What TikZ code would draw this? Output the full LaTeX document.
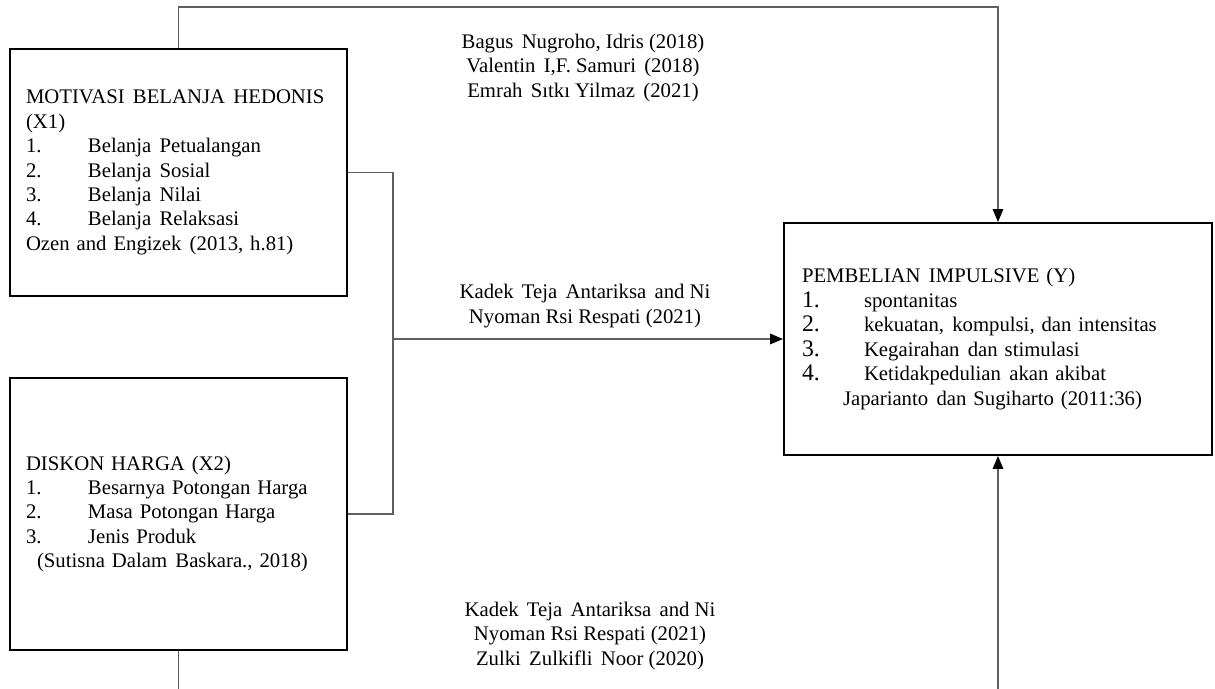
\documentclass[tikz,border=0pt]{standalone}
\usepackage{fontspec}
\setmainfont{Liberation Serif}
\usetikzlibrary{positioning, arrows.meta, calc}
\definecolor{linkgray}{RGB}{95, 95, 95}
\newcommand{\itm}[2]{\makebox[1.24cm][l]{#1}#2}
\newcommand{\bignum}[1]{{\fontsize{13.5}{13.9}\selectfont #1}}
\newcommand{\gap}{\hspace{0.4em}}
\tikzset{
  varbox/.style={
    draw=black,
    line width=1.1pt,
    align=left,
    inner xsep=0.32cm,
    inner ysep=0pt,
    font=\fontsize{11.8}{13.9}\selectfont
  },
  link/.style={
    draw=linkgray,
    line width=0.8pt
  },
  arrowlink/.style={
    link,
    -{Triangle[length=2.6mm, width=2.1mm, color=black]}
  },
  refnote/.style={
    align=center,
    inner sep=0pt,
    font=\fontsize{11.8}{13.9}\selectfont
  }
}

\begin{document}
\begin{tikzpicture}[x=0.02cm, y=-0.02cm]
  \useasboundingbox (0,0) rectangle (1215,689);

  % variables
  \node[varbox, minimum width=6.74cm, minimum height=4.94cm, text width=6.1cm] (x1) at (178.5,172.5)
    {\mbox{MOTIVASI\gap BELANJA\gap HEDONIS}\\(X1)\\
     \itm{1.}{Belanja\gap Petualangan}\\
     \itm{2.}{Belanja\gap Sosial}\\
     \itm{3.}{Belanja\gap Nilai}\\
     \itm{4.}{Belanja\gap Relaksasi}\\
     Ozen and Engizek\gap (2013, h.81)};
  \node[varbox, minimum width=6.74cm, minimum height=5.44cm, text width=6.1cm] (x2) at (178.5,514)
    {DISKON HARGA (X2)\\
     \itm{1.}{Besarnya Potongan Harga}\\
     \itm{2.}{Masa Potongan Harga}\\
     \itm{3.}{Jenis Produk}\\
     \hspace*{0.22cm}(Sutisna Dalam\gap Baskara., 2018)};
  \node[varbox, inner xsep=0.36cm, minimum width=8.56cm, minimum height=4.64cm, text width=7.84cm] (y) at (998,339)
    {PEMBELIAN\gap IMPULSIVE (Y)\\
     \itm{\bignum{1.}}{spontanitas}\\
     \itm{\bignum{2.}}{kekuatan,\gap kompulsi, dan intensitas}\\
     \itm{\bignum{3.}}{Kegairahan\gap dan stimulasi}\\
     \itm{\bignum{4.}}{Ketidakpedulian\gap akan akibat}\\
     \hspace*{0.82cm}Japarianto\gap dan Sugiharto (2011:36)};

  % references
  \node[refnote] (r1) at (583,68)
    {Bagus\gap Nugroho, Idris (2018)\\Valentin\gap I,F. Samuri\gap (2018)\\Emrah\gap Sıtkı Yilmaz\gap (2021)};
  \node[refnote] (r2) at (585,306)
    {Kadek\gap Teja\gap Antariksa\gap and Ni\\Nyoman Rsi Respati (2021)};
  \node[refnote] (r3) at (590,636)
    {Kadek\gap Teja\gap Antariksa\gap and Ni\\Nyoman Rsi Respati (2021)\\Zulki\gap Zulkifli\gap Noor (2020)};

  % connectors
  \coordinate (top) at (590,7);
  \coordinate (join) at (393,339);
  \coordinate (lowx) at (178.5,689);
  \coordinate (lowy) at (998,689);

  \draw[arrowlink] (x1.north) |- (top) -| (y.north);
  \draw[link] (x1.east) -| (join) |- (x2.east);
  \draw[arrowlink] (join) -- (y.west);
  \draw[link] (x2.south) -- (lowx);
  \draw[arrowlink] (lowy) -- (y.south);
\end{tikzpicture}
\end{document}
